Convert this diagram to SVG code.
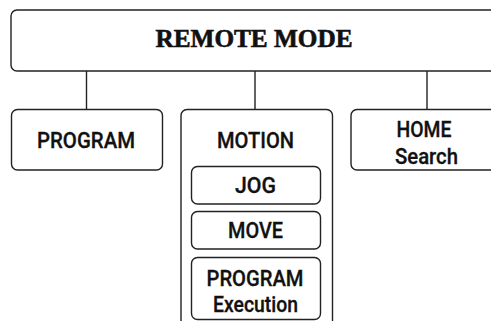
<svg xmlns="http://www.w3.org/2000/svg" width="491" height="321" viewBox="0 0 491 321">
<style>
.box{fill:#fff;stroke:#222;stroke-width:1.4}
.ln{stroke:#222;stroke-width:1.4;fill:none}
.t{font-family:Roboto,"Liberation Sans",sans-serif;font-size:22px;font-weight:500;fill:#111;stroke:#111;stroke-width:0.3;text-anchor:middle}
.h{font-family:"Liberation Serif",serif;font-size:25px;font-weight:bold;fill:#111;stroke:#111;stroke-width:0.6;text-anchor:middle}
</style>
<rect width="491" height="321" fill="#fff"/>
<g id="connectors">
<line class="ln" x1="86.5" y1="71" x2="86.5" y2="109.5"/>
<line class="ln" x1="255" y1="71" x2="255" y2="109.5"/>
<line class="ln" x1="427" y1="71" x2="427" y2="109.5"/>
</g>
<g id="remote-mode">
<rect class="box" x="11" y="10" width="510" height="61" rx="6"/>
<text class="h" x="254" y="47" textLength="197" lengthAdjust="spacingAndGlyphs">REMOTE MODE</text>
</g>
<g id="program">
<rect class="box" x="11.5" y="109.5" width="151" height="60.5" rx="6"/>
<text class="t" x="86" y="148" textLength="98" lengthAdjust="spacingAndGlyphs">PROGRAM</text>
</g>
<g id="motion">
<rect class="box" x="181" y="109.5" width="151.5" height="240" rx="6"/>
<text class="t" x="255.5" y="148" textLength="77" lengthAdjust="spacingAndGlyphs">MOTION</text>
</g>
<g id="jog">
<rect class="box" x="191.5" y="166.5" width="129" height="37.5" rx="6"/>
<text class="t" x="255.5" y="193" textLength="41" lengthAdjust="spacingAndGlyphs">JOG</text>
</g>
<g id="move">
<rect class="box" x="191.5" y="211.5" width="129" height="37.5" rx="6"/>
<text class="t" x="255.5" y="238" textLength="55" lengthAdjust="spacingAndGlyphs">MOVE</text>
</g>
<g id="program-execution">
<rect class="box" x="191.5" y="257.5" width="129" height="62" rx="6"/>
<text class="t" x="255" y="286" textLength="97" lengthAdjust="spacingAndGlyphs">PROGRAM</text>
<text class="t" x="255.5" y="312" textLength="85" lengthAdjust="spacingAndGlyphs">Execution</text>
</g>
<g id="home-search">
<rect class="box" x="351" y="109.5" width="160" height="60.5" rx="6"/>
<text class="t" x="424" y="137" textLength="55" lengthAdjust="spacingAndGlyphs">HOME</text>
<text class="t" x="426.5" y="164" textLength="63" lengthAdjust="spacingAndGlyphs">Search</text>
</g>
</svg>
